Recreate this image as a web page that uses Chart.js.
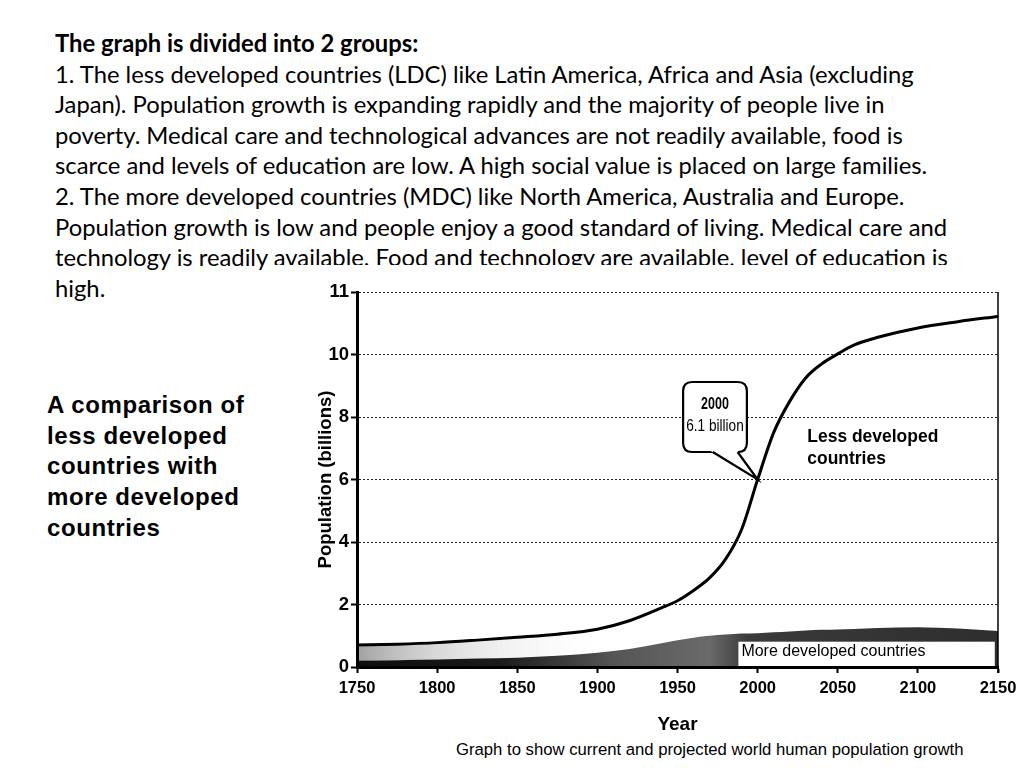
<!DOCTYPE html>
<html>
<head>
<meta charset="utf-8">
<script src="https://cdn.jsdelivr.net/npm/chart.js@4.4.1/dist/chart.umd.min.js"></script>
<style>
  html, body { margin: 0; padding: 0; background: #fff; }
  body { width: 1024px; height: 768px; position: relative; overflow: hidden; color: #000; }
  #notes { position: absolute; left: 55px; top: 28px; font-family: Lato, "Open Sans", sans-serif; font-size: 23.8px; line-height: 30.6px; white-space: nowrap; }
  #notes b { font-weight: 700; }
  #clip { position: absolute; left: 268px; top: 265px; width: 710px; height: 14px; background: #fff; }
  #side { position: absolute; left: 47px; top: 390px; font-family: "Liberation Sans", Arial, sans-serif; font-weight: bold; font-size: 24px; letter-spacing: 0.6px; line-height: 30.7px; }
  #chartBox { position: absolute; left: 300px; top: 278px; width: 724px; height: 462px; }
  #caption { position: absolute; left: 456px; top: 741px; font-family: "Liberation Sans", Arial, sans-serif; font-size: 16.7px; line-height: 18px; white-space: nowrap; }
</style>
</head>
<body>
<div id="notes">
  <div><b>The graph is divided into 2 groups:</b></div>
  <div>1. The less developed countries (LDC) like Latin America, Africa and Asia (excluding</div>
  <div>Japan). Population growth is expanding rapidly and the majority of people live in</div>
  <div>poverty. Medical care and technological advances are not readily available, food is</div>
  <div>scarce and levels of education are low. A high social value is placed on large families.</div>
  <div>2. The more developed countries (MDC) like North America, Australia and Europe.</div>
  <div>Population growth is low and people enjoy a good standard of living. Medical care and</div>
  <div>technology is readily available. Food and technology are available, level of education is</div>
  <div>high.</div>
</div>
<div id="clip"></div>
<div id="side">A comparison of<br>less developed<br>countries with<br>more developed<br>countries</div>
<div id="chartBox"><canvas id="popChart" width="724" height="462"></canvas></div>
<div id="caption">Graph to show current and projected world human population growth</div>

<script>
// values (billions)
const years = [1750, 1775, 1800, 1825, 1850, 1875, 1900, 1920, 1940, 1950, 1960, 1970, 1980, 1990, 2000,
               2010, 2020, 2030, 2040, 2050, 2060, 2075, 2100, 2125, 2150];
const worldTotal = [0.70, 0.73, 0.78, 0.86, 0.95, 1.05, 1.21, 1.48, 1.89, 2.12, 2.45, 2.85, 3.45, 4.40, 6.00,
                    7.50, 8.50, 9.25, 9.70, 10.02, 10.30, 10.55, 10.85, 11.05, 11.22];
const moreDeveloped = [0.21, 0.22, 0.24, 0.27, 0.30, 0.36, 0.46, 0.58, 0.76, 0.86, 0.94, 1.00, 1.04, 1.07, 1.08,
                       1.11, 1.14, 1.17, 1.19, 1.20, 1.22, 1.25, 1.27, 1.23, 1.15];

const xTickValues = [1750, 1800, 1850, 1900, 1950, 2000, 2050, 2100, 2150];
// the printed axis labels its top gridline "11"
const yTickValues = [0, 2, 4, 6, 8, 10, 12];
const yTickLabels = ['0', '2', '4', '6', '8', '10', '11'];

const callout = { year: 2000, value: 6.0, title: '2000', text: '6.1 billion' };

const SANS = '"Liberation Sans", Arial, sans-serif';

function toPoints(vals) {
    return years.map((yr, i) => ({ x: yr, y: vals[i] }));
}

function mdcFill(ctx) {
    const area = ctx.chart.chartArea;
    if (!area) return '#444';
    const g = ctx.chart.ctx.createLinearGradient(area.left, 0, area.right, 0);
    g.addColorStop(0, '#0e0e0e');
    g.addColorStop(0.22, '#1a1a1a');
    g.addColorStop(0.40, '#555');
    g.addColorStop(0.55, '#6a6a6a');
    g.addColorStop(0.61, '#3a3a3a');
    g.addColorStop(1, '#2e2e2e');
    return g;
}

function ldcFill(ctx) {
    const area = ctx.chart.chartArea;
    if (!area) return 'rgba(0,0,0,0)';
    const g = ctx.chart.ctx.createLinearGradient(area.left, 0, area.right, 0);
    g.addColorStop(0, 'rgba(100,100,100,0.6)');
    g.addColorStop(0.12, 'rgba(150,150,150,0.38)');
    g.addColorStop(0.28, 'rgba(200,200,200,0.12)');
    g.addColorStop(0.4, 'rgba(255,255,255,0)');
    g.addColorStop(1, 'rgba(255,255,255,0)');
    return g;
}

function roundRect(c, x, y, w, h, r) {
    c.beginPath();
    c.moveTo(x + r, y);
    c.lineTo(x + w - r, y);
    c.quadraticCurveTo(x + w, y, x + w, y + r);
    c.lineTo(x + w, y + h - r);
    c.quadraticCurveTo(x + w, y + h, x + w - r, y + h);
    c.lineTo(x + r, y + h);
    c.quadraticCurveTo(x, y + h, x, y + h - r);
    c.lineTo(x, y + r);
    c.quadraticCurveTo(x, y, x + r, y);
    c.closePath();
}

// condensed text: squeeze horizontally around the anchor
function narrowText(c, text, x, y, sx) {
    c.save();
    c.translate(x, y);
    c.scale(sx, 1);
    c.fillText(text, 0, 0);
    c.restore();
}

// labels, callout and frame drawn on top of the areas
const overlayPlugin = {
    id: 'overlay',
    afterDatasetsDraw(chart) {
        const c = chart.ctx;
        const xs = chart.scales.x, ys = chart.scales.y;
        const area = chart.chartArea;
        c.save();

        // right frame line
        c.strokeStyle = '#000';
        c.lineWidth = 1.5;
        c.beginPath();
        c.moveTo(area.right, area.top);
        c.lineTo(area.right, area.bottom + 6);
        c.stroke();

        // "More developed countries" label box
        const bx1 = xs.getPixelForValue(1988), bx2 = xs.getPixelForValue(2148);
        const by1 = ys.getPixelForValue(0.81), by2 = ys.getPixelForValue(0);
        c.fillStyle = '#fff';
        c.fillRect(bx1, by1, bx2 - bx1, by2 - by1 - 1);
        c.fillStyle = '#000';
        c.font = '16px ' + SANS;
        c.textBaseline = 'middle';
        c.textAlign = 'left';
        c.fillText('More developed countries', bx1 + 3, ys.getPixelForValue(0.5));

        // "Less developed countries" label
        c.font = 'bold 18px ' + SANS;
        narrowText(c, 'Less developed', xs.getPixelForValue(2031), ys.getPixelForValue(7.36), 0.97);
        narrowText(c, 'countries', xs.getPixelForValue(2031), ys.getPixelForValue(6.66), 0.97);

        // callout bubble
        const tipX = xs.getPixelForValue(callout.year), tipY = ys.getPixelForValue(callout.value);
        const l = xs.getPixelForValue(1953.5), r = xs.getPixelForValue(1993.3);
        const t = ys.getPixelForValue(9.12), b = ys.getPixelForValue(6.88);
        const t1 = xs.getPixelForValue(1972), t2 = xs.getPixelForValue(1987.5);
        c.lineWidth = 2.2;
        c.strokeStyle = '#000';
        c.fillStyle = '#fff';
        roundRect(c, l, t, r - l, b - t, 9);
        c.fill();
        c.stroke();
        c.beginPath();
        c.moveTo(t1 - 2, b - 1);
        c.lineTo(tipX, tipY);
        c.lineTo(t2, b - 1);
        c.closePath();
        c.fill();
        c.beginPath();
        c.moveTo(t1, b);
        c.lineTo(tipX, tipY);
        c.lineTo(t2, b);
        c.stroke();
        c.fillStyle = '#000';
        c.textAlign = 'center';
        c.font = 'bold 16px ' + SANS;
        narrowText(c, callout.title, (l + r) / 2, t + 23, 0.78);
        c.font = '17px ' + SANS;
        narrowText(c, callout.text, (l + r) / 2, t + 44, 0.8);

        c.restore();
    }
};

new Chart(document.getElementById('popChart'), {
    type: 'line',
    data: {
        datasets: [
            {
                label: 'More developed countries',
                data: toPoints(moreDeveloped),
                borderWidth: 0,
                borderColor: 'rgba(0,0,0,0)',
                backgroundColor: mdcFill,
                fill: 'origin',
                pointRadius: 0,
                cubicInterpolationMode: 'monotone'
            },
            {
                label: 'Less developed countries',
                data: toPoints(worldTotal),
                borderWidth: 3,
                borderColor: '#000',
                backgroundColor: ldcFill,
                fill: '-1',
                pointRadius: 0,
                cubicInterpolationMode: 'monotone'
            }
        ]
    },
    options: {
        responsive: false,
        animation: false,
        layout: { padding: { top: 14, right: 26, left: 0, bottom: 0 } },
        plugins: {
            legend: { display: false },
            tooltip: { enabled: false }
        },
        scales: {
            x: {
                type: 'linear',
                min: 1750,
                max: 2150,
                afterBuildTicks: (scale) => { scale.ticks = xTickValues.map(v => ({ value: v })); },
                afterFit: (scale) => { scale.height = 73; },
                ticks: {
                    color: '#000',
                    padding: 6,
                    maxRotation: 0,
                    font: { family: SANS, size: 16.5, weight: 'bold' },
                    callback: (v) => String(v)
                },
                grid: {
                    drawOnChartArea: false,
                    drawTicks: true,
                    tickLength: 6,
                    tickWidth: 2,
                    tickColor: '#000'
                },
                border: { display: true, color: '#000', width: 3, z: 1 },
                title: {
                    display: true,
                    text: 'Year',
                    color: '#000',
                    font: { family: SANS, size: 19, weight: 'bold' },
                    padding: { top: 0, bottom: 4 }
                }
            },
            y: {
                min: 0,
                max: 12,
                afterBuildTicks: (scale) => { scale.ticks = yTickValues.map(v => ({ value: v })); },
                afterFit: (scale) => { scale.width = 57; },
                ticks: {
                    color: '#000',
                    padding: 2,
                    font: { family: SANS, size: 18.5, weight: 'bold' },
                    callback: (v) => yTickLabels[yTickValues.indexOf(v)]
                },
                grid: {
                    color: '#222',
                    lineWidth: 1,
                    tickLength: 6,
                    tickWidth: 2,
                    tickColor: '#000',
                    tickBorderDash: []
                },
                border: { display: true, color: '#000', width: 3, dash: [2, 2], z: 1 },
                title: {
                    display: true,
                    text: 'Population (billions)',
                    color: '#000',
                    font: { family: SANS, size: 18.5, weight: 'bold' },
                    padding: { top: 15, bottom: 0 }
                }
            }
        }
    },
    plugins: [overlayPlugin]
});
</script>
</body>
</html>
